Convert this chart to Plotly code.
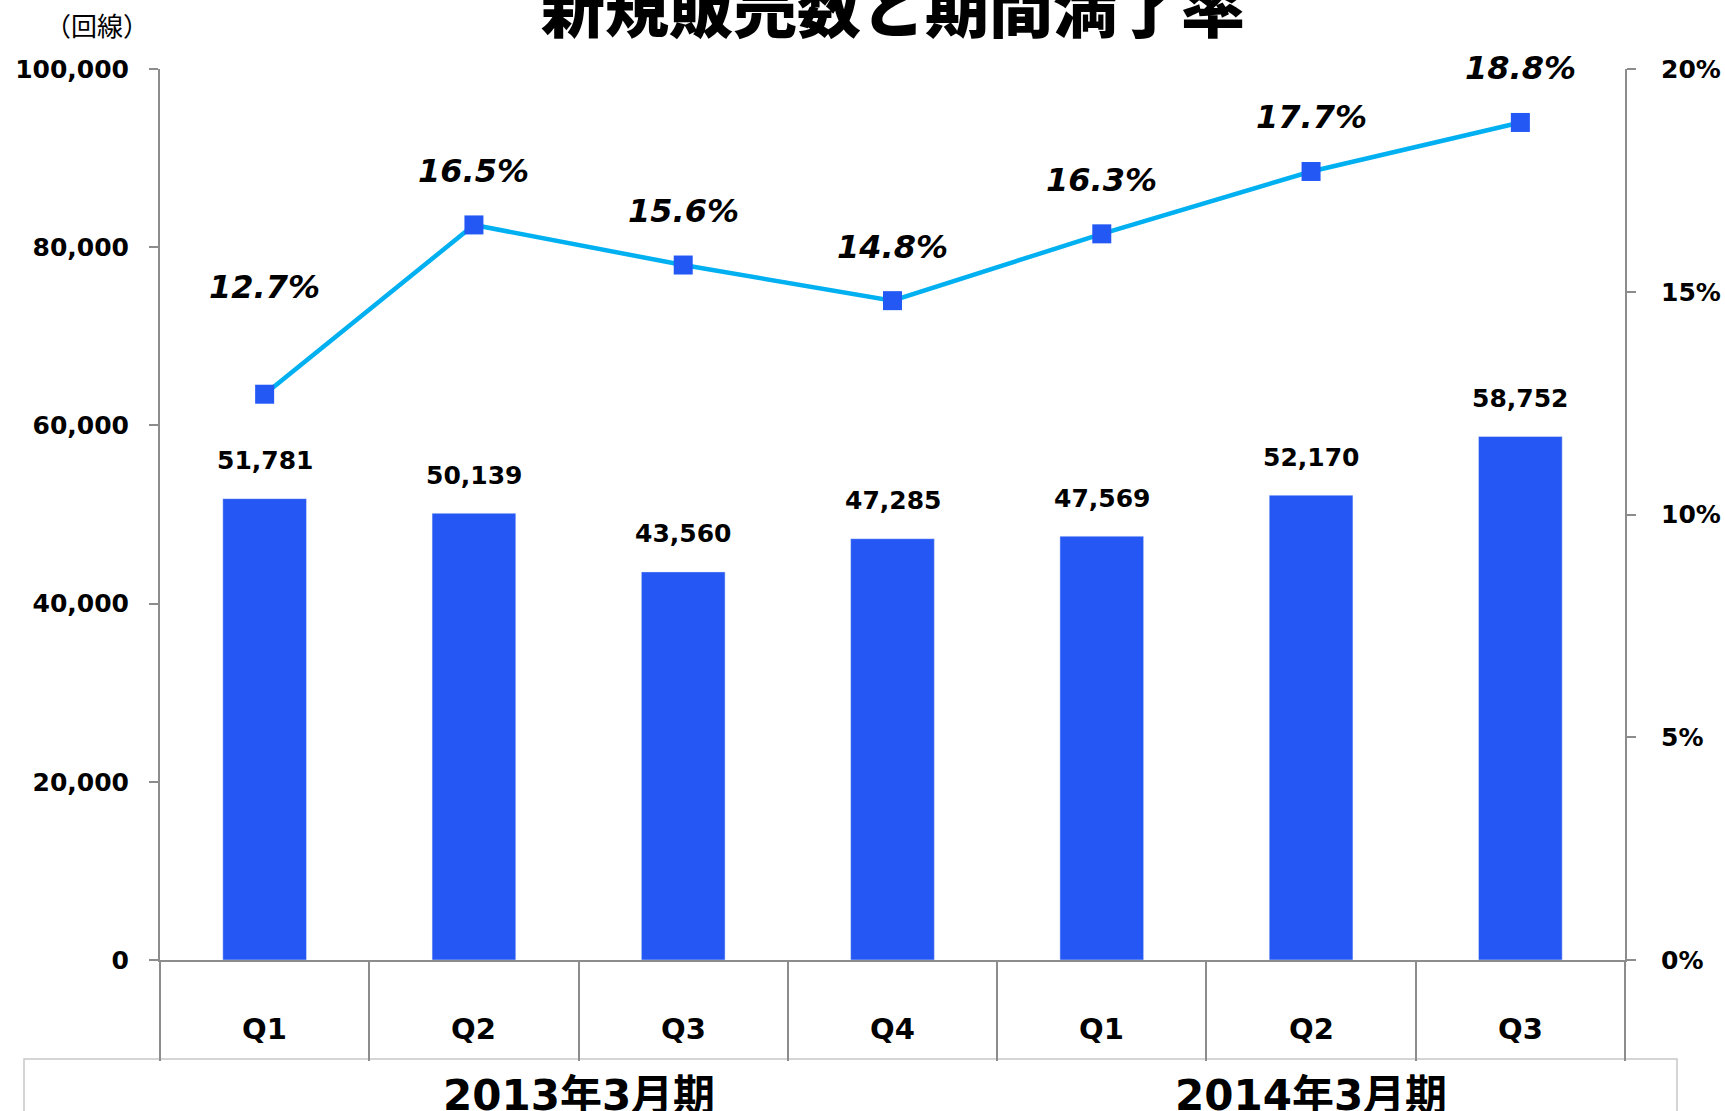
import plotly.graph_objects as go

# ---- data ----
quarters = ["Q1", "Q2", "Q3", "Q4", "Q1", "Q2", "Q3"]
fiscal_years = ["2013年3月期", "2014年3月期"]
fiscal_year_counts = [4, 3]
new_sales = [51781, 50139, 43560, 47285, 47569, 52170, 58752]
expiry_rate = [12.7, 16.5, 15.6, 14.8, 16.3, 17.7, 18.8]
left_ticks = [0, 20000, 40000, 60000, 80000, 100000]
right_ticks = [0, 5, 10, 15, 20]

# ---- styles ----
BAR_COLOR = "#2557F4"
LINE_COLOR = "#00B0F0"
MARKER_COLOR = "#2458F5"
AXIS_COLOR = "#8C8C8C"
LATIN = "DejaVu Sans, Noto Sans CJK JP, sans-serif"
CJK = "Noto Sans CJK JP, sans-serif"
rate_label_shift = [107, 54, 54, 54, 54, 54, 54]

xs = list(range(len(quarters)))

fig = go.Figure()
fig.add_trace(go.Bar(x=xs, y=new_sales, marker_color=BAR_COLOR, width=0.4,
                     yaxis="y", showlegend=False, hoverinfo="skip"))
fig.add_trace(go.Scatter(x=xs, y=expiry_rate, yaxis="y2", mode="lines+markers",
                         line=dict(color=LINE_COLOR, width=4.5),
                         marker=dict(symbol="square", size=19, color=MARKER_COLOR),
                         showlegend=False, hoverinfo="skip"))

annotations = []
for x, v in zip(xs, new_sales):
    annotations.append(dict(x=x, y=v, xref="x", yref="y", text=f"{v:,}", showarrow=False,
                            xanchor="center", yanchor="middle", yshift=38,
                            font=dict(family=LATIN, size=25, color="black", weight="bold")))
for x, r, s in zip(xs, expiry_rate, rate_label_shift):
    annotations.append(dict(x=x, y=r, xref="x", yref="y2", text=f"<i>{r:.1f}%</i>", showarrow=False,
                            xanchor="center", yanchor="middle", yshift=s,
                            font=dict(family=LATIN, size=32, color="black", weight="bold")))
for x, q in zip(xs, quarters):
    annotations.append(dict(x=x, y=-0.0775, xref="x", yref="paper", text=q, showarrow=False,
                            xanchor="center", yanchor="middle",
                            font=dict(family=LATIN, size=29, color="black", weight="bold")))
start = 0
for fy, n in zip(fiscal_years, fiscal_year_counts):
    center = (xs[start] + xs[start + n - 1]) / 2
    annotations.append(dict(x=center, y=-0.152, xref="x", yref="paper", text=fy, showarrow=False,
                            xanchor="center", yanchor="middle",
                            font=dict(family=LATIN, size=42, color="black", weight="bold")))
    start += n
annotations.append(dict(x=0.5, y=1.0735, xref="paper", yref="paper", text="新規販売数と期間満了率",
                        showarrow=False, xanchor="center", yanchor="middle",
                        font=dict(family=CJK, size=64, color="black", weight=900)))
annotations.append(dict(x=-0.043, y=1.0505, xref="paper", yref="paper", text="（回線）",
                        showarrow=False, xanchor="center", yanchor="middle",
                        font=dict(family=CJK, size=26, color="black")))

shapes = [dict(type="rect", xref="paper", yref="paper",
               x0=(24 - 160) / 1465, x1=(1677 - 160) / 1465,
               y0=-(1059 - 960) / 891, y1=-0.25,
               line=dict(color="#C8C8C8", width=1.5), fillcolor="rgba(0,0,0,0)", layer="below")]

boundaries = [x - 0.5 for x in xs] + [xs[-1] + 0.5]

fig.update_layout(
    width=1725, height=1111,
    margin=dict(l=160, r=100, t=69, b=151, autoexpand=False),
    plot_bgcolor="white", paper_bgcolor="white",
    annotations=annotations, shapes=shapes,
    xaxis=dict(range=[boundaries[0], boundaries[-1]], tickmode="array", tickvals=boundaries,
               showticklabels=False, ticks="outside", ticklen=99, tickwidth=1.5,
               tickcolor=AXIS_COLOR, showline=True, linecolor=AXIS_COLOR, linewidth=2,
               showgrid=False, zeroline=False, fixedrange=True, automargin=False),
    yaxis=dict(range=[0, 100000], tickmode="array", tickvals=left_ticks,
               ticktext=[f"{v:,}" for v in left_ticks],
               ticks="outside", ticklen=9, tickwidth=2, tickcolor=AXIS_COLOR,
               showline=True, linecolor=AXIS_COLOR, linewidth=2, showgrid=False,
               zeroline=False, ticklabelstandoff=15, automargin=False,
               tickfont=dict(family=LATIN, size=25, color="black", weight="bold")),
    yaxis2=dict(range=[0, 20], overlaying="y", side="right", tickmode="array",
                tickvals=right_ticks, ticktext=[f"{v}%" for v in right_ticks],
                ticks="outside", ticklen=9, tickwidth=2, tickcolor=AXIS_COLOR,
                showline=True, linecolor=AXIS_COLOR, linewidth=2, showgrid=False,
                zeroline=False, ticklabelstandoff=20, automargin=False,
                tickfont=dict(family=LATIN, size=25, color="black", weight="bold")),
    bargap=0.6,
)

fig.write_html("out.html", config={"displayModeBar": False},
               post_script="document.body.style.margin='0';")
